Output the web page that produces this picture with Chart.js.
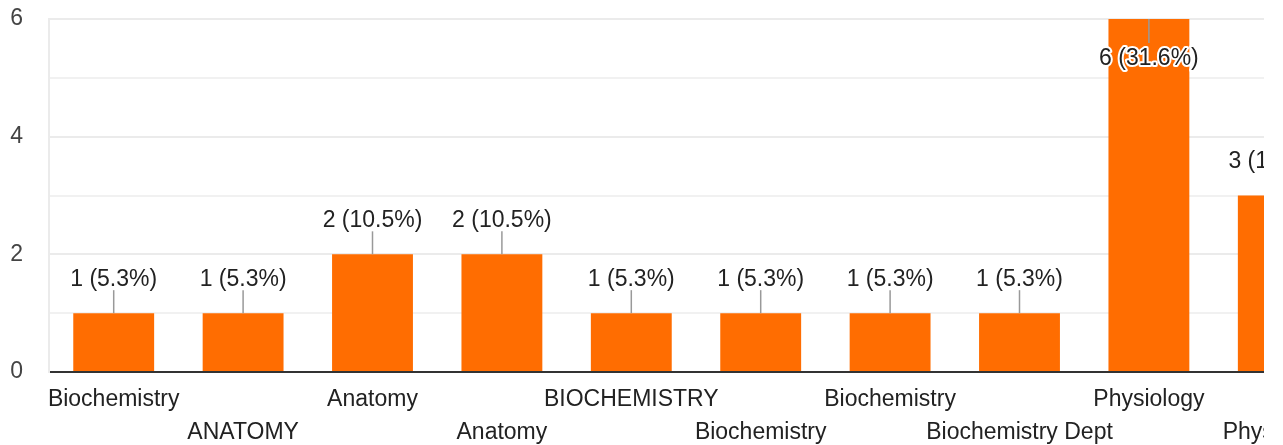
<!DOCTYPE html>
<html>
<head>
<meta charset="utf-8">
<title>Department responses</title>
<script src="https://cdn.jsdelivr.net/npm/chart.js@4/dist/chart.umd.min.js"></script>
<style>
    html, body { margin: 0; padding: 0; background: #fff; }
    /* the chart is wider than the visible box, the last bar gets cut off */
    #wrap { width: 1264px; height: 445px; overflow: hidden; }
    canvas { display: block; }
</style>
</head>
<body>
<div id="wrap">
    <canvas id="deptChart" width="1350" height="445"></canvas>
</div>
<script>
// Chart data
const categories = [
    'Biochemistry', 'ANATOMY', 'Anatomy', 'Anatomy', 'BIOCHEMISTRY',
    'Biochemistry', 'Biochemistry', 'Biochemistry Dept', 'Physiology', 'Physiology'
];
const responses = [1, 1, 2, 2, 1, 1, 1, 1, 6, 3];
const yTickLabels = [0, 2, 4, 6];
const yMax = 6;

const FONT = '"Liberation Sans", Arial, sans-serif';
const total = responses.reduce((a, b) => a + b, 0);

// Draw "n (x%)" labels with a small leader line above each bar
const barLabels = {
    id: 'barLabels',
    afterDatasetsDraw(chart) {
        const { ctx, chartArea } = chart;
        const meta = chart.getDatasetMeta(0);
        ctx.save();
        ctx.font = '23px ' + FONT;
        ctx.textAlign = 'center';
        ctx.textBaseline = 'middle';
        meta.data.forEach((bar, i) => {
            const value = responses[i];
            const text = value + ' (' + (value / total * 100).toFixed(1) + '%)';
            // no room above the tallest bar, so its label goes inside
            const inside = bar.y - 34 - 14 < chartArea.top;
            const lineEnd = inside ? bar.y + 24 : bar.y - 23;
            const textY = inside ? bar.y + 40 : bar.y - 34;

            ctx.strokeStyle = '#999';
            ctx.lineWidth = 1.5;
            ctx.beginPath();
            ctx.moveTo(bar.x, bar.y);
            ctx.lineTo(bar.x, lineEnd);
            ctx.stroke();

            if (inside) {
                ctx.strokeStyle = '#fff';
                ctx.lineWidth = 4;
                ctx.lineJoin = 'round';
                ctx.strokeText(text, bar.x, textY);
            }
            ctx.fillStyle = '#222';
            ctx.fillText(text, bar.x, textY);
        });
        ctx.restore();
    }
};

new Chart(document.getElementById('deptChart'), {
    type: 'bar',
    data: {
        labels: categories,
        datasets: [{
            data: responses,
            backgroundColor: '#ff6d01',
            borderWidth: 0,
            barPercentage: 0.625,
            categoryPercentage: 1
        }]
    },
    options: {
        responsive: false,
        animation: false,
        devicePixelRatio: 1,
        layout: { padding: { top: 19, right: 7, left: 0, bottom: 0 } },
        plugins: {
            legend: { display: false },
            tooltip: { enabled: false }
        },
        scales: {
            x: {
                grid: { display: false },
                border: { color: '#333', width: 2 },
                ticks: {
                    autoSkip: false,
                    maxRotation: 0,
                    padding: 4,
                    color: '#222',
                    font: { family: FONT, size: 23, lineHeight: 1.4 },
                    // every second label sits on a second row
                    callback: function(value, index) {
                        const label = this.getLabelForValue(value);
                        return index % 2 ? ['', label] : label;
                    }
                },
                afterFit: scale => { scale.height = 73; }
            },
            y: {
                min: 0,
                max: yMax,
                grid: {
                    drawTicks: false,
                    lineWidth: 2,
                    color: ctx => {
                        const v = ctx.tick.value;
                        if (v === 0) return '#333';
                        return yTickLabels.includes(v) ? '#ebebeb' : '#f1f1f1';
                    }
                },
                border: { color: '#ebebeb', width: 2 },
                ticks: {
                    stepSize: 1,
                    padding: 26,
                    color: '#444',
                    font: { family: FONT, size: 23 },
                    callback: value => yTickLabels.includes(value) ? value : ''
                },
                afterFit: scale => {
                    scale.width = 49;
                    // tick padding would otherwise push the plot top down
                    scale.paddingTop = 0;
                }
            }
        }
    },
    plugins: [barLabels]
});
</script>
</body>
</html>
